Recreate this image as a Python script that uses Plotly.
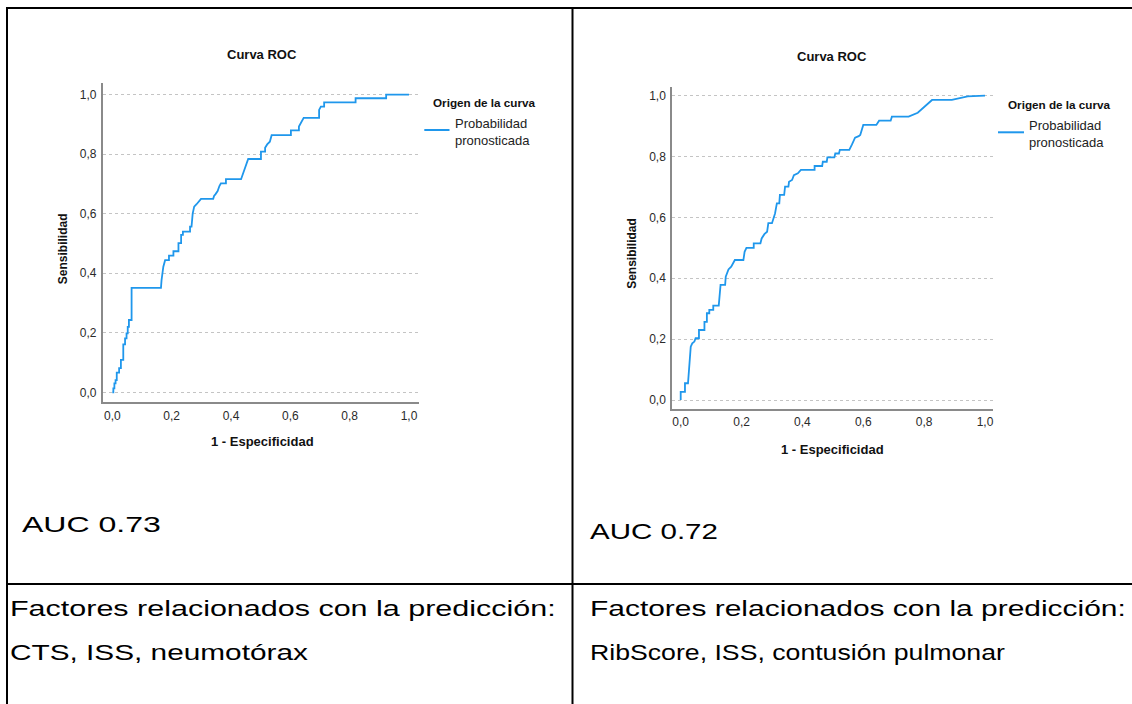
import json
import plotly.graph_objects as go

W, H = 1132, 704

# ---- data (1 - Especificidad, Sensibilidad) ----
roc1_fpr = [0, 0.0035, 0.0035, 0.007, 0.007, 0.011, 0.011, 0.015, 0.015, 0.023, 0.023,
            0.029, 0.029, 0.037, 0.037, 0.043, 0.043, 0.048, 0.048, 0.052, 0.052, 0.056,
            0.056, 0.065, 0.065, 0.164, 0.166, 0.172, 0.178, 0.191, 0.191, 0.206, 0.206,
            0.223, 0.223, 0.232, 0.232, 0.238, 0.238, 0.262, 0.262, 0.267, 0.271, 0.276,
            0.284, 0.292, 0.299, 0.34, 0.343, 0.348, 0.355, 0.361, 0.366, 0.383, 0.383,
            0.434, 0.446, 0.458, 0.501, 0.501, 0.515, 0.515, 0.522, 0.531, 0.537, 0.602,
            0.602, 0.629, 0.629, 0.635, 0.645, 0.697, 0.697, 0.703, 0.714, 0.714, 0.82,
            0.82, 0.923, 0.923, 1.0]
roc1_tpr = [0, 0, 0.013, 0.013, 0.03, 0.03, 0.041, 0.041, 0.066, 0.066, 0.081,
            0.081, 0.109, 0.109, 0.161, 0.161, 0.181, 0.181, 0.198, 0.198, 0.22, 0.22,
            0.243, 0.243, 0.351, 0.351, 0.377, 0.422, 0.444, 0.444, 0.459, 0.459, 0.474,
            0.474, 0.501, 0.501, 0.529, 0.529, 0.54, 0.54, 0.557, 0.557, 0.601, 0.624,
            0.632, 0.641, 0.65, 0.65, 0.66, 0.666, 0.676, 0.693, 0.702, 0.702, 0.716,
            0.716, 0.75, 0.784, 0.784, 0.809, 0.809, 0.822, 0.833, 0.842, 0.864, 0.864,
            0.88, 0.88, 0.893, 0.906, 0.922, 0.922, 0.949, 0.96, 0.96, 0.974, 0.974,
            0.988, 0.988, 1.0, 1.0]

roc2_fpr = [0, 0, 0.014, 0.014, 0.024, 0.028, 0.033, 0.038, 0.045, 0.049, 0.06, 0.06,
            0.078, 0.078, 0.086, 0.086, 0.094, 0.094, 0.107, 0.107, 0.125, 0.131, 0.146,
            0.148, 0.157, 0.166, 0.171, 0.178, 0.206, 0.21, 0.216, 0.24, 0.24, 0.262,
            0.266, 0.275, 0.284, 0.288, 0.3, 0.305, 0.31, 0.316, 0.324, 0.326, 0.34,
            0.343, 0.354, 0.356, 0.366, 0.372, 0.385, 0.395, 0.44, 0.44, 0.465, 0.467,
            0.48, 0.482, 0.505, 0.508, 0.52, 0.523, 0.554, 0.563, 0.573, 0.585, 0.59,
            0.6, 0.643, 0.652, 0.69, 0.694, 0.749, 0.779, 0.826, 0.891, 0.943, 1.0]
roc2_tpr = [0, 0.027, 0.027, 0.055, 0.055, 0.12, 0.175, 0.186, 0.192, 0.203, 0.203, 0.23,
            0.23, 0.257, 0.257, 0.285, 0.285, 0.296, 0.296, 0.31, 0.31, 0.378, 0.378,
            0.405, 0.429, 0.438, 0.446, 0.46, 0.46, 0.487, 0.5, 0.5, 0.515, 0.515,
            0.531, 0.545, 0.553, 0.581, 0.581, 0.597, 0.613, 0.646, 0.646, 0.674, 0.674,
            0.701, 0.701, 0.717, 0.723, 0.739, 0.745, 0.756, 0.756, 0.769, 0.769, 0.783,
            0.783, 0.797, 0.797, 0.81, 0.81, 0.822, 0.822, 0.84, 0.862, 0.867, 0.871,
            0.904, 0.904, 0.918, 0.918, 0.931, 0.931, 0.944, 0.986, 0.986, 0.998, 1.0]

tick_vals = [0, 0.2, 0.4, 0.6, 0.8, 1.0]
tick_text = ["0,0", "0,2", "0,4", "0,6", "0,8", "1,0"]

chart_title = "Curva ROC"
x_title = "1 - Especificidad"
y_title = "Sensibilidad"
legend_title = "Origen de la curva"
legend_item = "Probabilidad<br>pronosticada"
auc_texts = ["AUC 0.73", "AUC 0.72"]
factor_head = "Factores relacionados con la predicción:"
factor_lists = ["CTS, ISS, neumotórax", "RibScore, ISS, contusión pulmonar"]

BLUE = "#1f97ec"
FONT = "Liberation Sans"


def px(x):
    return x / W


def py(y):
    return 1 - y / H


fig = go.Figure()
fig.add_trace(go.Scatter(x=roc1_fpr, y=roc1_tpr, mode="lines", xaxis="x", yaxis="y",
                         line=dict(color=BLUE, width=1.8), showlegend=False, hoverinfo="skip"))
fig.add_trace(go.Scatter(x=roc2_fpr, y=roc2_tpr, mode="lines", xaxis="x2", yaxis="y2",
                         line=dict(color=BLUE, width=1.8), showlegend=False, hoverinfo="skip"))

axis_common = dict(showline=True, linecolor="#8a8a8a", linewidth=1.5, zeroline=False,
                   tickvals=tick_vals, ticktext=tick_text, ticks="",
                   tickfont=dict(family=FONT, size=12, color="#2a2a2a"), fixedrange=True)

# chart geometry in pixels
g1 = dict(l=102.7, r=418.8, t=83.0, b=402.3, x0=112.3, ux=296.7, y0=392.3, uy=297.6)
g2 = dict(l=672.0, r=993.0, t=86.7, b=409.0, x0=680.7, ux=304.3, y0=400.0, uy=304.3)


def ranges(g):
    xr = [(g["l"] - g["x0"]) / g["ux"], (g["r"] - g["x0"]) / g["ux"]]
    yr = [(g["y0"] - g["b"]) / g["uy"], (g["y0"] - g["t"]) / g["uy"]]
    return xr, yr


xr1, yr1 = ranges(g1)
xr2, yr2 = ranges(g2)

fig.update_layout(
    width=W, height=H, margin=dict(l=0, r=0, t=0, b=0),
    paper_bgcolor="white", plot_bgcolor="white",
    xaxis=dict(domain=[px(g1["l"]), px(g1["r"])], range=xr1, showgrid=False,
               ticklabelstandoff=2, anchor="y", **axis_common),
    yaxis=dict(domain=[py(g1["b"]), py(g1["t"])], range=yr1, showgrid=True,
               gridcolor="#c4c4c4", griddash="dot", gridwidth=1, ticklabelstandoff=2,
               anchor="x", **axis_common),
    xaxis2=dict(domain=[px(g2["l"]), px(g2["r"])], range=xr2, showgrid=False,
                ticklabelstandoff=1, anchor="y2", **axis_common),
    yaxis2=dict(domain=[py(g2["b"]), py(g2["t"])], range=yr2, showgrid=True,
                gridcolor="#c4c4c4", griddash="dot", gridwidth=1, ticklabelstandoff=2,
                anchor="x2", **axis_common),
)

ann = []


def text(x, y, s, size, bold=False, xanchor="center", angle=0, color="#111111", family=FONT):
    ann.append(dict(x=px(x), y=py(y), xref="paper", yref="paper", text=s, showarrow=False,
                    xanchor=xanchor, yanchor="middle", textangle=angle, align="left",
                    font=dict(family=family, size=size, color=color,
                              weight="bold" if bold else "normal")))
    return len(ann) - 1


for cx, g, ty, xt, yx, leg in [(262, g1, 54.5, 441, 62.5, (431, 102.7, 452.7, 132)),
                               (832, g2, 56, 449, 632, (1005.7, 104.3, 1027, 134))]:
    text(cx, ty, chart_title, 13, bold=True)
    text(cx, xt, x_title, 13, bold=True)
    text(yx, (g["t"] + g["b"]) / 2 + 6, y_title, 12, bold=True, angle=-90)
    tx, tyy, ix, iy = leg
    text(tx, tyy, legend_title, 11.7, bold=True, xanchor="left")
    text(ix, iy, legend_item, 13, xanchor="left", color="#222222")

shapes = []
for lx0, lx1, ly in [(424.3, 449.5, 130), (998, 1024, 132.3)]:
    shapes.append(dict(type="line", xref="paper", yref="paper", x0=px(lx0), x1=px(lx1),
                       y0=py(ly), y1=py(ly), line=dict(color=BLUE, width=2)))

# table borders
border = dict(color="black", width=2)
shapes += [
    dict(type="line", xref="paper", yref="paper", x0=px(6), x1=px(1132), y0=py(8), y1=py(8), line=border),
    dict(type="line", xref="paper", yref="paper", x0=px(7), x1=px(7), y0=py(8), y1=py(704), line=border),
    dict(type="line", xref="paper", yref="paper", x0=px(572.5), x1=px(572.5), y0=py(8), y1=py(704), line=border),
    dict(type="line", xref="paper", yref="paper", x0=px(6), x1=px(1132), y0=py(584), y1=py(584), line=border),
]

# document text: (left x px, centre y px, string, rendered width px in the reference)
BODY = 22
body = [
    (20, 524, auc_texts[0], 139),
    (588, 531, auc_texts[1], 128),
    (8, 608, factor_head, 546),
    (588, 608, factor_head, 536),
    (8, 652, factor_lists[0], 298),
    (588, 652, factor_lists[1], 415),
]
targets = {}
for bx, by, s, bw in body:
    idx = text(bx, by, s, BODY, xanchor="left", color="#000000")
    targets[str(idx)] = bw

fig.update_layout(annotations=ann, shapes=shapes)

# The document text in the reference is rendered horizontally widened:
# stretch those annotation texts from their left edge to the measured widths.
post = """
var gd = document.getElementById('{plot_id}');
var targets = %s;
gd.querySelectorAll('g.annotation').forEach(function(g) {
  var idx = g.getAttribute('data-index');
  if (!(idx in targets)) return;
  var t = g.querySelector('text.annotation-text');
  if (!t) return;
  var bb = t.getBBox();
  if (!bb.width) return;
  var sx = targets[idx] / bb.width;
  var old = t.getAttribute('transform') || '';
  t.setAttribute('transform', old + ' translate(' + bb.x + ',0) scale(' + sx + ',1) translate(' + (-bb.x) + ',0)');
});
""" % json.dumps(targets)

fig.write_html("out.html", post_script=post)
